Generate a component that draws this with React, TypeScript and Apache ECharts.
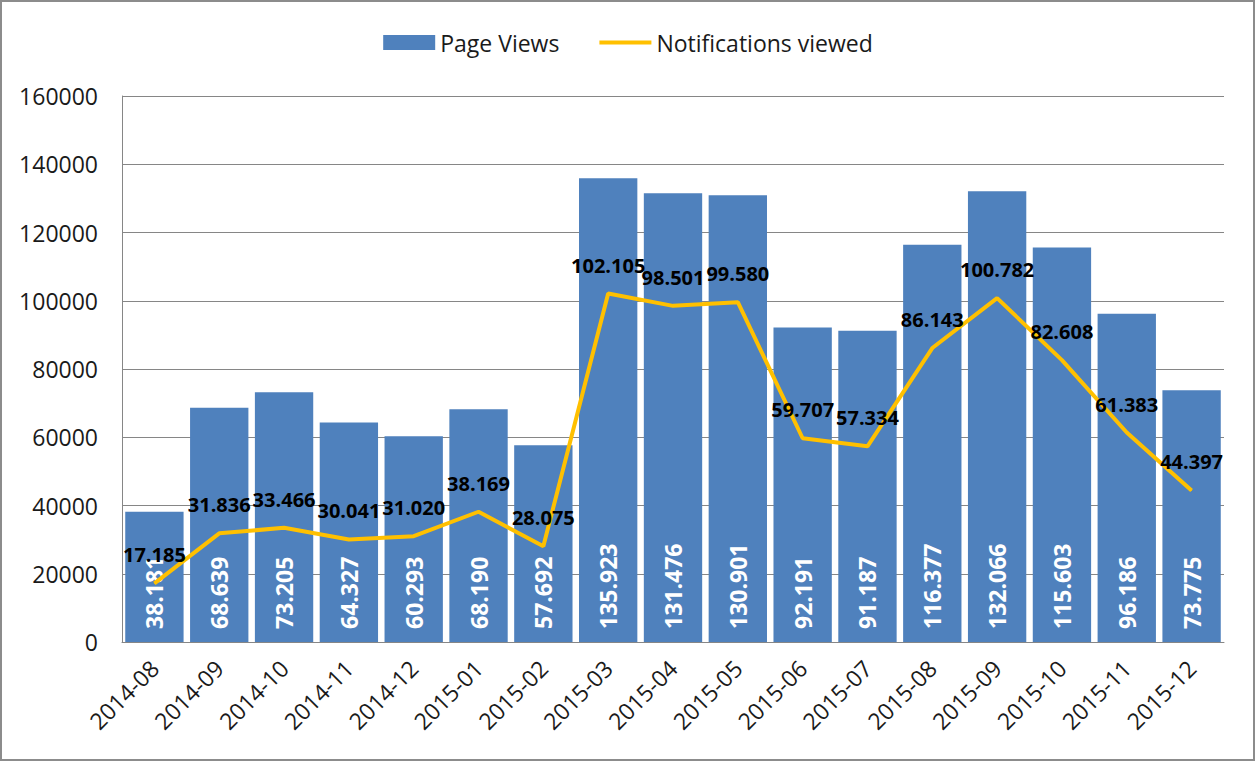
import React, { useEffect, useRef } from "react";
import * as echarts from "echarts";

const categories = [
  "2014-08", "2014-09", "2014-10", "2014-11", "2014-12", "2015-01", "2015-02",
  "2015-03", "2015-04", "2015-05", "2015-06", "2015-07", "2015-08", "2015-09",
  "2015-10", "2015-11", "2015-12",
];
const pageViews = [
  38181, 68639, 73205, 64327, 60293, 68190, 57692, 135923, 131476, 130901,
  92191, 91187, 116377, 132066, 115603, 96186, 73775,
];
const notificationsViewed = [
  17185, 31836, 33466, 30041, 31020, 38169, 28075, 102105, 98501, 99580,
  59707, 57334, 86143, 100782, 82608, 61383, 44397,
];
const yTicks = { min: 0, max: 160000, interval: 20000 };

const FONT = "'Open Sans', 'Noto Sans', sans-serif";
const fmtDot = (v: number) => {
  const s = String(Math.round(v));
  return s.replace(/\B(?=(\d{3})+(?!\d))/g, ".");
};

export default function App() {
  const ref = useRef<HTMLDivElement>(null);
  useEffect(() => {
    if (!ref.current) return;
    const chart = echarts.init(ref.current, undefined, { renderer: "svg" });
    chart.setOption({
      animation: false,
      backgroundColor: "#ffffff",
      textStyle: { fontFamily: FONT },
      graphic: [
        {
          type: "rect",
          shape: { x: 1, y: 1, width: 1253, height: 759 },
          style: { fill: "none", stroke: "#8c8c8c", lineWidth: 2 },
          silent: true,
        },
      ],
      legend: {
        top: 26,
        left: "center",
        itemWidth: 52,
        itemHeight: 15,
        itemGap: 40,
        textStyle: { fontSize: 23, color: "#1a1a1a", fontFamily: FONT },
        data: [
          { name: "Page Views", icon: "rect" },
          { name: "Notifications viewed", icon: "path://M0,0L52,0L52,4L0,4Z" },
        ],
      },
      grid: { left: 122, right: 32, top: 96, bottom: 121, containLabel: false },
      xAxis: {
        type: "category",
        data: categories,
        axisLine: { show: true, lineStyle: { color: "#868686", width: 1 } },
        axisTick: { show: false },
        axisLabel: {
          rotate: 45,
          interval: 0,
          fontSize: 23,
          color: "#1a1a1a",
          margin: 22,
          fontFamily: FONT,
        },
      },
      yAxis: {
        type: "value",
        min: yTicks.min,
        max: yTicks.max,
        interval: yTicks.interval,
        axisLine: { show: true, lineStyle: { color: "#868686", width: 1 } },
        axisTick: { show: false },
        splitLine: { show: true, lineStyle: { color: "#868686", width: 1 } },
        axisLabel: {
          fontSize: 23,
          color: "#1a1a1a",
          margin: 24,
          fontFamily: FONT,
          formatter: (v: number) => String(v),
        },
      },
      series: [
        {
          name: "Page Views",
          type: "bar",
          data: pageViews,
          barCategoryGap: "10%",
          itemStyle: { color: "#4F81BD" },
          label: {
            show: true,
            position: "insideBottom",
            rotate: 90,
            align: "left",
            verticalAlign: "middle",
            distance: 13,
            color: "#ffffff",
            fontWeight: "bold",
            fontSize: 23,
            fontFamily: FONT,
            formatter: (p: any) => fmtDot(p.value),
          },
        },
        {
          name: "Notifications viewed",
          type: "line",
          data: notificationsViewed,
          showSymbol: true,
          symbol: "circle",
          symbolSize: 1,
          lineStyle: { color: "#FFC000", width: 4 },
          itemStyle: { color: "#FFC000" },
          label: {
            show: true,
            position: "top",
            distance: 18,
            color: "#000000",
            fontWeight: "bold",
            fontSize: 20,
            fontFamily: FONT,
            formatter: (p: any) => fmtDot(p.value),
          },
          z: 5,
        },
      ],
    });
    return () => chart.dispose();
  }, []);
  return (
    <div
      ref={ref}
      style={{ position: "fixed", left: 0, top: 0, width: 1256, height: 763 }}
    />
  );
}
